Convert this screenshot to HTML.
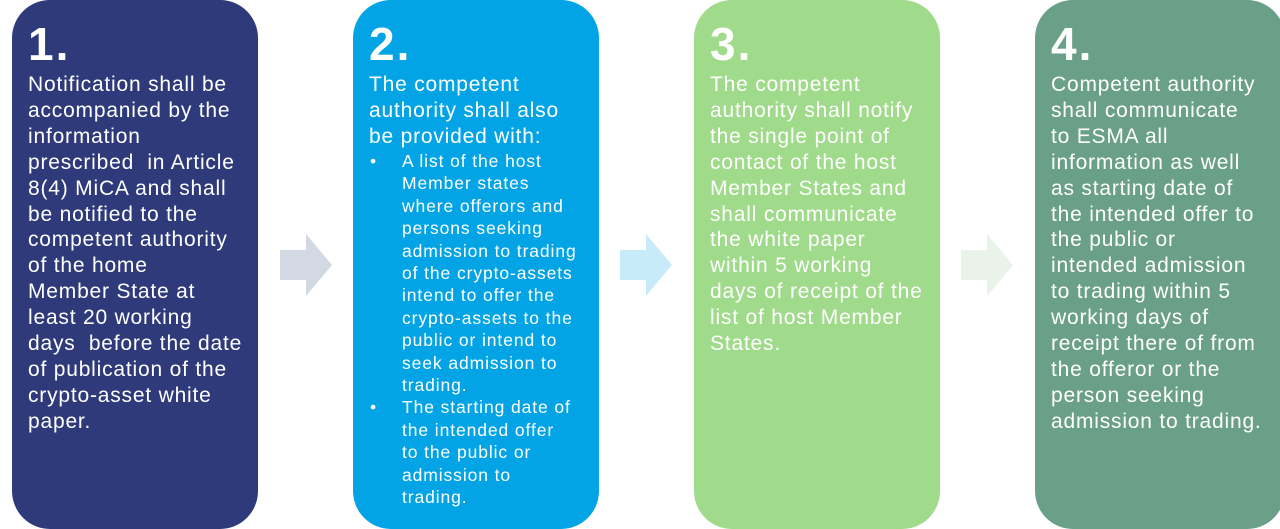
<!DOCTYPE html><html><head><style>
body{margin:0;width:1280px;height:529px;background:#fff;position:relative;overflow:hidden;font-family:"Liberation Sans",sans-serif;color:#fff}
.b{position:absolute;top:0;width:246px;height:529px;border-radius:38px}
.t{position:absolute;top:18px;font-size:46px;font-weight:bold;line-height:52px;letter-spacing:2px}
.x{position:absolute;top:72px;font-size:21px;line-height:25.9px;white-space:nowrap;letter-spacing:0.8px}
.s{position:absolute;white-space:nowrap;font-size:17.5px;line-height:22.4px;letter-spacing:0.9px}
</style></head><body>
<div class="b" style="left:12px;background:#2e3a7a"></div>
<div class="b" style="left:353px;background:#02a4e6"></div>
<div class="b" style="left:694px;background:#a0da8b"></div>
<div class="b" style="left:1035px;width:250px;background:#6a9f88"></div>
<svg width="1280" height="529" style="position:absolute;left:0;top:0">
<polygon points="280,250 306,250 306,234 332,265 306,296 306,280 280,280" fill="#d2d9e2"/>
<polygon points="620,250 646,250 646,234 672,265 646,296 646,280 620,280" fill="#c8ebfa"/>
<polygon points="961,250 987,250 987,234 1013,265 987,296 987,280 961,280" fill="#e9f3e9"/>
</svg>
<div class="t" style="left:28px">1.</div>
<div class="t" style="left:369px">2.</div>
<div class="t" style="left:710px">3.</div>
<div class="t" style="left:1051px">4.</div>
<div class="x" style="left:28px">Notification shall be<br>accompanied by the<br>information<br>prescribed &nbsp;in Article<br>8(4) MiCA and shall<br>be notified to the<br>competent authority<br>of the home<br>Member State at<br>least 20 working<br>days &nbsp;before the date<br>of publication of the<br>crypto-asset white<br>paper.</div>
<div class="x" style="left:369px">The competent<br>authority shall also<br>be provided with:</div>
<div class="s" style="left:370px;top:150px">•<br><br><br><br><br><br><br><br><br><br><br>•</div>
<div class="s" style="left:402px;top:150px">A list of the host<br>Member states<br>where offerors and<br>persons seeking<br>admission to trading<br>of the crypto-assets<br>intend to offer the<br>crypto-assets to the<br>public or intend to<br>seek admission to<br>trading.<br>The starting date of<br>the intended offer<br>to the public or<br>admission to<br>trading.</div>
<div class="x" style="left:710px">The competent<br>authority shall notify<br>the single point of<br>contact of the host<br>Member States and<br>shall communicate<br>the white paper<br>within 5 working<br>days of receipt of the<br>list of host Member<br>States.</div>
<div class="x" style="left:1051px">Competent authority<br>shall communicate<br>to ESMA all<br>information as well<br>as starting date of<br>the intended offer to<br>the public or<br>intended admission<br>to trading within 5<br>working days of<br>receipt there of from<br>the offeror or the<br>person seeking<br>admission to trading.</div>
</body></html>
